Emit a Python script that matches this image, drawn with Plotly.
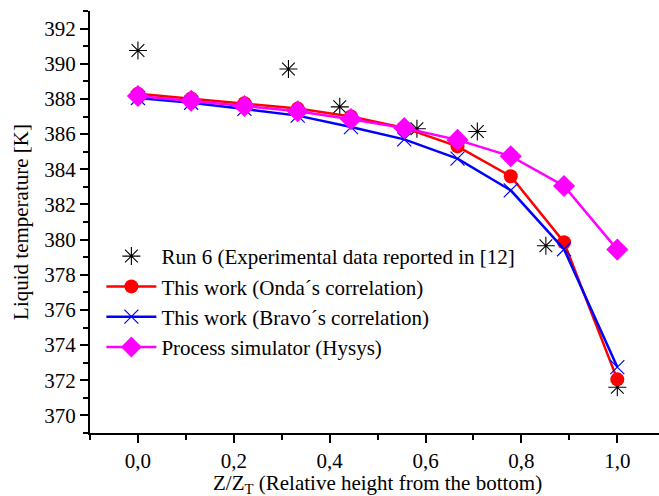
import plotly.graph_objects as go

# Relative height positions of the model stages
z_model = [0.0, 1/9, 2/9, 3/9, 4/9, 5/9, 6/9, 7/9, 8/9, 1.0]

# Liquid temperature profiles [K]
t_onda = [388.30, 388.02, 387.75, 387.45, 387.00, 386.35, 385.30, 383.60, 379.85, 372.05]
t_bravo = [388.05, 387.78, 387.43, 387.05, 386.40, 385.70, 384.60, 382.80, 379.45, 372.75]
t_hysys = [388.17, 387.90, 387.60, 387.30, 386.85, 386.35, 385.67, 384.74, 383.05, 379.43]

# Experimental data (Run 6)
z_exp = [0.0, 0.314, 0.421, 0.582, 0.708, 0.851, 1.0]
t_exp = [390.75, 389.70, 387.55, 386.30, 386.15, 379.65, 371.60]

FONT = "Liberation Serif"

fig = go.Figure()

fig.add_trace(go.Scatter(
    x=z_exp, y=t_exp, mode="markers",
    name="Run 6 (Experimental data reported in [12]",
    marker=dict(symbol="asterisk-open", size=15, color="black",
                line=dict(color="black", width=1.1)),
))
fig.add_trace(go.Scatter(
    x=z_model, y=t_onda, mode="lines+markers",
    name="This work (Onda´s correlation)",
    line=dict(color="#ff0000", width=2.5),
    marker=dict(symbol="circle", size=14, color="#ff0000"),
))
fig.add_trace(go.Scatter(
    x=z_model, y=t_bravo, mode="lines+markers",
    name="This work (Bravo´s correlation)",
    line=dict(color="#0000ff", width=2.5),
    marker=dict(symbol="x-thin-open", size=14, color="#0000ff",
                line=dict(color="#0000ff", width=1.2)),
))
fig.add_trace(go.Scatter(
    x=z_model, y=t_hysys, mode="lines+markers",
    name="Process simulator (Hysys)",
    line=dict(color="#ff00ff", width=2.5),
    marker=dict(symbol="diamond", size=17, color="#ff00ff"),
))

axis_common = dict(
    showline=True, linecolor="black", linewidth=2,
    ticks="outside", tickcolor="black", tickwidth=1.5, ticklen=8,
    showgrid=False, zeroline=False, mirror=False,
    tickfont=dict(family=FONT, size=21, color="black"),
)

fig.update_layout(
    width=659, height=496,
    margin=dict(l=90, r=0, t=11, b=63),
    paper_bgcolor="white", plot_bgcolor="white",
    separators=",.",
    font=dict(family=FONT, size=21, color="black"),
    xaxis=dict(
        range=[-0.1, 1.087], tick0=0, dtick=0.2, tickformat=".1f",
        minor=dict(dtick=0.1, tick0=0, ticks="outside", ticklen=5,
                   tickwidth=1.5, tickcolor="black"),
        **axis_common,
    ),
    yaxis=dict(
        range=[369, 393], tick0=370, dtick=2,
        minor=dict(dtick=1, tick0=369, ticks="outside", ticklen=5,
                   tickwidth=1.5, tickcolor="black"),
        title=dict(text="Liquid temperature [K]",
                   font=dict(family=FONT, size=21, color="black"), standoff=10),
        **axis_common,
    ),
    showlegend=True,
    legend=dict(
        x=0.02, y=0.467, xanchor="left", yanchor="top",
        bgcolor="rgba(0,0,0,0)", borderwidth=0,
        itemwidth=50,
        font=dict(family=FONT, size=21, color="black"),
    ),
)

# x-axis title placed just below the tick labels
fig.add_annotation(
    text="Z/Z<sub>T</sub> (Relative height from the bottom)",
    xref="paper", yref="paper", x=0.505, y=-0.121,
    xanchor="center", yanchor="middle", showarrow=False,
    font=dict(family=FONT, size=21, color="black"),
)

fig.write_html("out.html")
